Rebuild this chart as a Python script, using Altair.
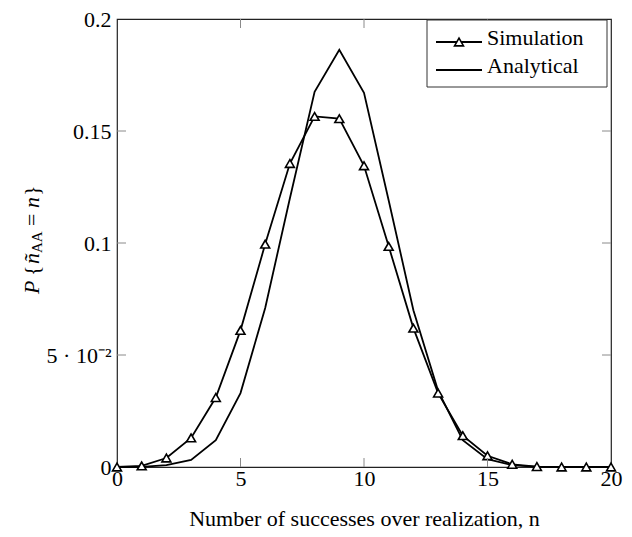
import altair as alt
import pandas as pd

n_values = list(range(21))
simulation = [0.0, 0.0005, 0.004, 0.013, 0.031, 0.061, 0.0995, 0.1355, 0.1565, 0.1555,
              0.1345, 0.0985, 0.062, 0.033, 0.014, 0.005, 0.0012, 0.0002, 0.0, 0.0, 0.0]
analytical = [0.0, 0.0001, 0.0008, 0.0032, 0.012, 0.033, 0.071, 0.12, 0.1675, 0.1862,
              0.1670, 0.119, 0.070, 0.034, 0.012, 0.0035, 0.0008, 0.0001, 0.0, 0.0, 0.0]
x_ticks = [5, 10, 15]
y_ticks = [0.05, 0.1, 0.15]

W, H = 494, 448
FONT = "Liberation Serif"
FS = 22

df = pd.DataFrame({"n": n_values, "sim": simulation, "ana": analytical})
one = pd.DataFrame({"a": [0]})
xt = pd.DataFrame({"t": x_ticks})
yt = pd.DataFrame({"t": y_ticks})

xs = alt.Scale(domain=[0, 20], nice=False)
ys = alt.Scale(domain=[0, 0.2], nice=False)

x_axis = alt.Axis(values=[0, 5, 10, 15, 20], title="Number of successes over realization, n",
                  grid=False, domain=False, ticks=False, labelFont=FONT, labelFontSize=FS,
                  labelColor="black", labelPadding=1, titleFont=FONT, titleFontSize=FS,
                  titleFontWeight="normal", titleColor="black", titlePadding=19,
                  labelFlush=False)
y_axis = alt.Axis(values=[0, 0.05, 0.1, 0.15, 0.2], title=None, grid=False, domain=False,
                  ticks=False, labelFont=FONT, labelFontSize=FS, labelColor="black",
                  labelPadding=6, labelFlush=False,
                  labelExpr="datum.value == 0.05 ? '5 · 10⁻²' : format(datum.value, '')")

base = alt.Chart(df)
ana_line = base.mark_line(color="black", strokeWidth=1.8).encode(
    x=alt.X("n:Q", scale=xs, axis=x_axis),
    y=alt.Y("ana:Q", scale=ys, axis=y_axis),
)
sim_line = base.mark_line(color="black", strokeWidth=1.8).encode(
    x=alt.X("n:Q", scale=xs), y=alt.Y("sim:Q", scale=ys)
)
sim_pts = base.mark_point(shape="triangle-up", size=80, filled=False, color="black",
                          fill="white", fillOpacity=1, strokeWidth=1.6, opacity=1).encode(
    x=alt.X("n:Q", scale=xs), y=alt.Y("sim:Q", scale=ys)
)

tick_color = "#8a8a8a"
tb = alt.Chart(xt).mark_rule(color=tick_color, strokeWidth=1).encode(
    x=alt.X("t:Q", scale=xs), y=alt.value(H), y2=alt.value(H - 9))
tt = alt.Chart(xt).mark_rule(color=tick_color, strokeWidth=1).encode(
    x=alt.X("t:Q", scale=xs), y=alt.value(0), y2=alt.value(9))
tl = alt.Chart(yt).mark_rule(color=tick_color, strokeWidth=1).encode(
    y=alt.Y("t:Q", scale=ys), x=alt.value(0), x2=alt.value(9))
tr = alt.Chart(yt).mark_rule(color=tick_color, strokeWidth=1).encode(
    y=alt.Y("t:Q", scale=ys), x=alt.value(W), x2=alt.value(W - 9))

# legend
lg_box = alt.Chart(one).mark_rect(fill="white", stroke="#333", strokeWidth=1).encode(
    x=alt.value(310), x2=alt.value(490), y=alt.value(1), y2=alt.value(68))
lg_l1 = alt.Chart(one).mark_rule(color="black", strokeWidth=1.8).encode(
    x=alt.value(319), x2=alt.value(365), y=alt.value(23))
lg_p1 = alt.Chart(one).mark_point(shape="triangle-up", size=80, color="black", fill="white",
                                  fillOpacity=1, strokeWidth=1.6, opacity=1).encode(
    x=alt.value(342), y=alt.value(23))
lg_l2 = alt.Chart(one).mark_rule(color="black", strokeWidth=1.8).encode(
    x=alt.value(319), x2=alt.value(365), y=alt.value(51))


def txt(s, x, y, size=FS, style="normal", angle=0, align="left", baseline="middle"):
    return alt.Chart(one).mark_text(text=s, font=FONT, fontSize=size, fontStyle=style,
                                    color="black", angle=angle, align=align,
                                    baseline=baseline).encode(x=alt.value(x), y=alt.value(y))


lg_t1 = txt("Simulation", 370, 26, baseline="alphabetic")
lg_t2 = txt("Analytical", 370, 54, baseline="alphabetic")

# y title pieces (rotated)
tx = -85
y0 = 275
yt_parts = [
    txt("P", tx, y0, style="italic", angle=270),
    txt("{", tx, y0 - 18, angle=270),
    txt("ñ", tx, y0 - 30, style="italic", angle=270),
    txt("AA", tx + 5, y0 - 41, size=15, angle=270),
    txt("=", tx, y0 - 68, angle=270),
    txt("n", tx, y0 - 86, style="italic", angle=270),
    txt("}", tx, y0 - 98, angle=270),
]

chart = alt.layer(
    ana_line, sim_line, sim_pts, tb, tt, tl, tr,
    lg_box, lg_l1, lg_p1, lg_l2, lg_t1, lg_t2, *yt_parts
).properties(
    width=W, height=H,
    autosize=alt.AutoSizeParams(type="none"),
    padding={"left": 109, "top": 11, "right": 13, "bottom": 70},
).configure_view(stroke="#222", strokeWidth=1.2)

chart.save("out.html", embed_options={"renderer": "svg", "actions": False})
